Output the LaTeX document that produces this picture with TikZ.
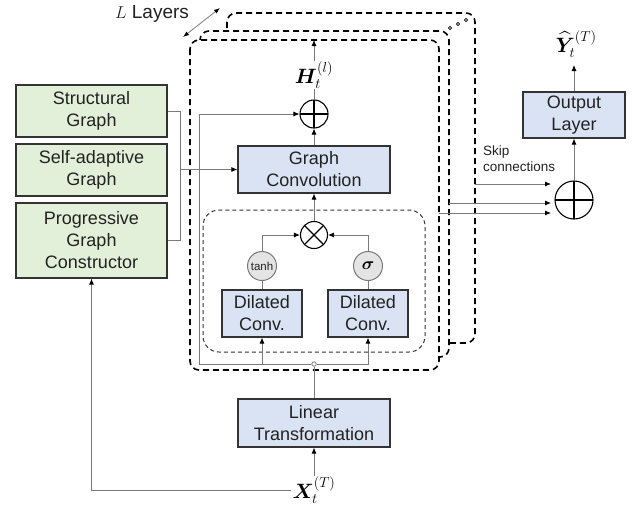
\documentclass[tikz,border=0pt]{standalone}
\usepackage{amsmath}
\usepackage{bm}
\usepackage[no-math]{fontspec}
\setmainfont{Liberation Sans}
\usetikzlibrary{arrows.meta}
\definecolor{gfill}{HTML}{E2EFD9}
\definecolor{bfill}{HTML}{DAE3F3}
\definecolor{cfill}{HTML}{E4E4E4}
\definecolor{lgray}{HTML}{7A7A7A}
\definecolor{bordc}{HTML}{333333}
\definecolor{txtc}{HTML}{222222}
\begin{document}
\begin{tikzpicture}[x=1pt,y=-1pt,
  box/.style={draw=bordc, line width=1.2pt, align=center, inner sep=0pt, text=txtc,
    font=\fontsize{18}{22}\selectfont},
  gbox/.style={box, fill=gfill},
  bbox/.style={box, fill=bfill},
  conn/.style={draw=lgray, line width=0.8pt},
  arr/.style={conn, -{Latex[length=6pt,width=5pt,color=black]}},
  frame/.style={draw=black, line width=1.6pt, dash pattern=on 6pt off 4pt, rounded corners=9pt, fill=white},
  opcirc/.style={circle, draw=black, line width=1.1pt, inner sep=0pt, fill=white},
  oplus/.style={opcirc, path picture={
     \draw[line width=1.1pt] (path picture bounding box.north) -- (path picture bounding box.south)
       (path picture bounding box.west) -- (path picture bounding box.east);}},
  otimes/.style={opcirc, path picture={
     \draw[line width=1.1pt] (path picture bounding box.north west) -- (path picture bounding box.south east)
       (path picture bounding box.south west) -- (path picture bounding box.north east);}},
  actc/.style={circle, draw=lgray, line width=1pt, fill=cfill, inner sep=0pt, minimum size=29pt},
  mathlab/.style={inner sep=1pt, fill=white, font=\fontsize{20.74}{24}\selectfont},
]
\useasboundingbox (0,0) rectangle (644,506);

% layer frames (back to front)
\draw[frame] (227,13) rectangle (475,343);
\draw[frame] (200,31) rectangle (449,357);
\draw[frame] (190,40) rectangle (439,370);
\foreach \px/\py in {450/28,458/24,466/20}
  \draw[line width=0.6pt] (\px,\py) circle (1.6pt);

% L Layers
\node[font=\fontsize{19}{22}\selectfont, text=txtc] (ll) at (152,14) {$L$ Layers};
\coordinate (la) at (183,37);
\coordinate (lb) at (220,8);
\draw[conn, {Latex[length=6pt,width=4.5pt,color=black]}-{Latex[length=6pt,width=4.5pt,color=black]}] (la) -- (lb);

% gate box
\draw[draw=bordc, line width=1pt, dash pattern=on 4pt off 3pt, rounded corners=16pt] (203,210) rectangle (425,352);

% green boxes
\node[gbox, minimum width=151pt, minimum height=52pt] (sg) at (91.5,111) {Structural\\Graph};
\node[gbox, minimum width=151pt, minimum height=52pt] (sa) at (91.5,170) {Self-adaptive\\Graph};
\node[gbox, minimum width=151pt, minimum height=75pt] (pg) at (91.5,240.5) {Progressive\\Graph\\Constructor};

% blue boxes
\node[bbox, minimum width=152pt, minimum height=47pt] (gc) at (314,169.5) {Graph\\Convolution};
\node[bbox, minimum width=80pt, minimum height=47pt] (dcl) at (262,313.5) {Dilated\\Conv.};
\node[bbox, minimum width=80pt, minimum height=47pt] (dcr) at (368,313.5) {Dilated\\Conv.};
\node[bbox, minimum width=152pt, minimum height=48pt] (lt) at (314,423) {Linear\\Transformation};
\node[bbox, minimum width=102pt, minimum height=46pt] (ol) at (574,115) {Output\\Layer};

% operators
\node[oplus, minimum size=28pt] (p1) at (314,114) {};
\node[otimes, minimum size=27pt] (ot) at (314,235) {};
\node[actc, font=\fontsize{11.5}{13}\selectfont, text=txtc] (tanh) at (262,266) {tanh};
\node[actc, font=\fontsize{17.28}{20}\selectfont] (sig) at (368,266) {$\bm{\sigma}$};
\node[oplus, minimum size=38pt] (p2) at (574,200) {};
\node[circle, draw=lgray, line width=0.8pt, fill=white, inner sep=0pt, minimum size=4.5pt] (jn) at (314,364) {};

% bracket from graph boxes
\draw[conn] (sg.east) -- ++(13,0) coordinate (bt) -- (bt |- pg.east) -- (pg.east);
\draw[arr] (bt |- gc.west) -- (gc.west);

% core connections
\draw[arr] (gc.north) -- (p1.south);
\coordinate (htip) at (314,40);
\draw[arr] (p1.north) -- (htip);
\node[mathlab] (hl) at (314,75) {$\bm{H}_t^{(l)}$};
\draw[arr] (ot.north) -- (gc.south);
\draw[arr] (tanh.north) |- (ot.west);
\draw[arr] (sig.north) |- (ot.east);
\draw[conn] (tanh.south) -- (dcl.north);
\draw[conn] (sig.south) -- (dcr.north);
\draw[conn] (lt.north) -- (jn.south);
\draw[arr] (jn.west) -| (dcl.south);
\draw[arr] (jn.east) -| (dcr.south);
\coordinate (rc) at (199,364);
\draw[arr] (jn.west) -- (rc) |- (p1.west);

% input
\node[mathlab] (xl) at (314,490) {$\bm{X}_t^{(T)}$};
\draw[arr] (xl.north) -- (lt.south);
\draw[arr] (xl.west) -| (pg.south);

% skip connections and output
\coordinate (s1) at (475,184); \coordinate (e1) at (551,184);
\coordinate (s2) at (449,203); \coordinate (e2) at (551,203);
\coordinate (s3) at (439,213); \coordinate (e3) at (551,213);
\draw[arr] (s1) -- (e1);
\draw[arr] (s2) -- (e2);
\draw[arr] (s3) -- (e3);
\node[anchor=north west, align=left, inner sep=0pt, text=txtc, font=\fontsize{13.5}{16}\selectfont] (skl) at (483,146) {Skip\\connections};
\draw[arr] (p2.north) -- (ol.south);
\coordinate (ytip) at (574,65);
\draw[arr] (ol.north) -- (ytip);
\node[mathlab] (yl) at (576,44) {$\widehat{\bm{Y}}_t^{(T)}$};
\end{tikzpicture}
\end{document}
